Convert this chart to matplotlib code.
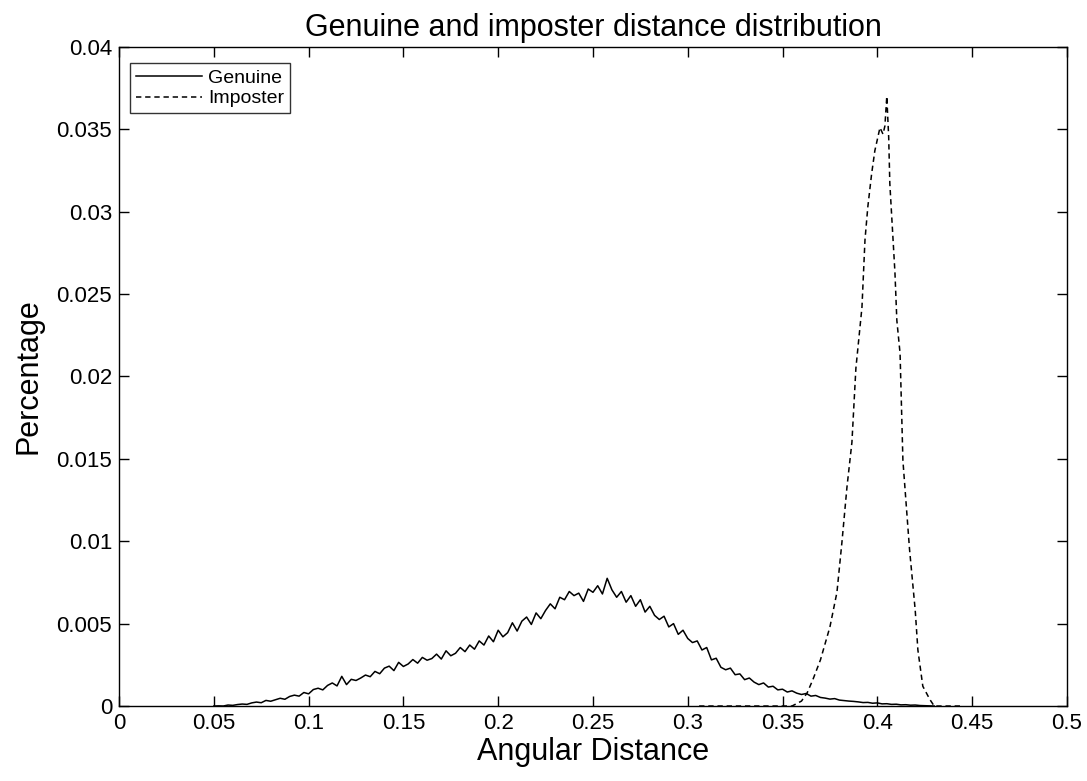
import numpy as np
import matplotlib.pyplot as plt

# Genuine distribution (angular distance, percentage in thousandths)
genuine_x = [
    0.0500, 0.0525, 0.0550, 0.0575, 0.0600, 0.0625, 0.0650, 0.0675, 0.0700, 0.0725,
    0.0750, 0.0775, 0.0800, 0.0825, 0.0850, 0.0875, 0.0900, 0.0925, 0.0950, 0.0975,
    0.1000, 0.1025, 0.1050, 0.1075, 0.1100, 0.1125, 0.1150, 0.1175, 0.1200, 0.1225,
    0.1250, 0.1275, 0.1300, 0.1325, 0.1350, 0.1375, 0.1400, 0.1425, 0.1450, 0.1475,
    0.1500, 0.1525, 0.1550, 0.1575, 0.1600, 0.1625, 0.1650, 0.1675, 0.1700, 0.1725,
    0.1750, 0.1775, 0.1800, 0.1825, 0.1850, 0.1875, 0.1900, 0.1925, 0.1950, 0.1975,
    0.2000, 0.2025, 0.2050, 0.2075, 0.2100, 0.2125, 0.2150, 0.2175, 0.2200, 0.2225,
    0.2250, 0.2275, 0.2300, 0.2325, 0.2350, 0.2375, 0.2400, 0.2425, 0.2450, 0.2475,
    0.2500, 0.2525, 0.2550, 0.2575, 0.2600, 0.2625, 0.2650, 0.2675, 0.2700, 0.2725,
    0.2750, 0.2775, 0.2800, 0.2825, 0.2850, 0.2875, 0.2900, 0.2925, 0.2950, 0.2975,
    0.3000, 0.3025, 0.3050, 0.3075, 0.3100, 0.3125, 0.3150, 0.3175, 0.3200, 0.3225,
    0.3250, 0.3275, 0.3300, 0.3325, 0.3350, 0.3375, 0.3400, 0.3425, 0.3450, 0.3475,
    0.3500, 0.3525, 0.3550, 0.3575, 0.3600, 0.3625, 0.3650, 0.3675, 0.3700, 0.3725,
    0.3750, 0.3775, 0.3800, 0.3825, 0.3850, 0.3875, 0.3900, 0.3925, 0.3950, 0.3975,
    0.4000, 0.4025, 0.4050, 0.4075, 0.4100, 0.4125, 0.4150, 0.4175, 0.4200, 0.4225,
    0.4250, 0.4275, 0.4300,
]
genuine_milli = [
    0.00, 0.01, 0.00, 0.06, 0.04, 0.09, 0.12, 0.10, 0.19, 0.24,
    0.20, 0.34, 0.29, 0.38, 0.47, 0.41, 0.58, 0.66, 0.60, 0.82,
    0.74, 1.00, 1.08, 0.98, 1.25, 1.40, 1.22, 1.80, 1.30, 1.62,
    1.55, 1.70, 1.88, 1.78, 2.10, 1.96, 2.30, 2.42, 2.15, 2.65,
    2.40, 2.55, 2.82, 2.60, 2.95, 2.78, 2.88, 3.15, 2.85, 3.35,
    3.05, 3.20, 3.55, 3.30, 3.70, 3.45, 3.95, 3.70, 4.25, 3.90,
    4.60, 4.20, 4.45, 5.05, 4.55, 5.15, 5.40, 4.95, 5.65, 5.30,
    5.80, 6.20, 5.90, 6.60, 6.45, 6.95, 6.70, 6.85, 6.35, 7.10,
    6.90, 7.30, 6.80, 7.75, 7.05, 6.60, 6.95, 6.30, 6.70, 6.05,
    6.45, 5.70, 6.05, 5.50, 5.25, 5.45, 4.80, 5.00, 4.35, 4.60,
    4.10, 3.85, 3.95, 3.40, 3.55, 2.80, 2.90, 2.35, 2.20, 2.30,
    1.90, 1.95, 1.60, 1.70, 1.45, 1.30, 1.40, 1.15, 1.20, 0.98,
    1.02, 0.85, 0.92, 0.78, 0.70, 0.76, 0.60, 0.64, 0.52, 0.48,
    0.42, 0.45, 0.36, 0.33, 0.30, 0.28, 0.25, 0.21, 0.22, 0.17,
    0.19, 0.13, 0.14, 0.10, 0.11, 0.07, 0.08, 0.05, 0.06, 0.03,
    0.02, 0.01, 0.00,
]

# Imposter distribution
imposter_x = [
    0.306, 0.355, 0.360, 0.363, 0.366, 0.370, 0.375, 0.3787, 0.3813, 0.384,
    0.3866, 0.3887, 0.3919, 0.3935, 0.395, 0.397, 0.3987, 0.4014, 0.403, 0.404,
    0.405, 0.406, 0.4066, 0.4077, 0.4093, 0.4103, 0.412, 0.4135, 0.417, 0.420,
    0.4214, 0.424, 0.4277, 0.430, 0.444,
]
imposter_y = [
    0.0, 0.0, 0.0003, 0.0008, 0.0016, 0.0028, 0.0048, 0.0069, 0.0099, 0.0133,
    0.0160, 0.0205, 0.0242, 0.0283, 0.0303, 0.0323, 0.0337, 0.0351, 0.0347, 0.0352,
    0.0370, 0.0345, 0.0317, 0.0295, 0.0263, 0.0234, 0.0214, 0.0149, 0.0095, 0.0058,
    0.0034, 0.0012, 0.0004, 0.0, 0.0,
]

x_ticks = [0, 0.05, 0.1, 0.15, 0.2, 0.25, 0.3, 0.35, 0.4, 0.45, 0.5]
x_tick_labels = ['0', '0.05', '0.1', '0.15', '0.2', '0.25', '0.3', '0.35', '0.4', '0.45', '0.5']
y_ticks = [0, 0.005, 0.01, 0.015, 0.02, 0.025, 0.03, 0.035, 0.04]
y_tick_labels = ['0', '0.005', '0.01', '0.015', '0.02', '0.025', '0.03', '0.035', '0.04']

plt.rcParams['font.family'] = ['Liberation Sans', 'DejaVu Sans']

fig = plt.figure(figsize=(10.87, 7.81), dpi=100)
ax = fig.add_axes([0.1095, 0.096, 0.872, 0.844])

genuine_y = np.array(genuine_milli) / 1000.0
ax.plot(genuine_x, genuine_y, color='black', linewidth=1.1, label='Genuine')
ax.plot(imposter_x, imposter_y, color='black', linewidth=1.1,
        linestyle=(0, (3.5, 2.5)), label='Imposter')

ax.set_xlim(0, 0.5)
ax.set_ylim(0, 0.04)
ax.set_xticks(x_ticks)
ax.set_xticklabels(x_tick_labels)
ax.set_yticks(y_ticks)
ax.set_yticklabels(y_tick_labels)
ax.tick_params(direction='in', top=True, right=True, length=7, width=1,
               labelsize=16, pad=5)
for sp in ax.spines.values():
    sp.set_linewidth(1.0)

ax.set_title('Genuine and imposter distance distribution', fontsize=22, pad=8)
ax.set_xlabel('Angular Distance', fontsize=22, labelpad=2)
ax.set_ylabel('Percentage', fontsize=22, labelpad=9)

leg = ax.legend(loc='upper left', bbox_to_anchor=(0.0116, 0.975), borderaxespad=0,
                fontsize=14, frameon=True, fancybox=False,
                handlelength=3.4, handletextpad=0.3,
                borderpad=0.3, labelspacing=0.15)
leg.get_frame().set_edgecolor('black')
leg.get_frame().set_linewidth(1.0)

fig.savefig('out.png', dpi=100)
